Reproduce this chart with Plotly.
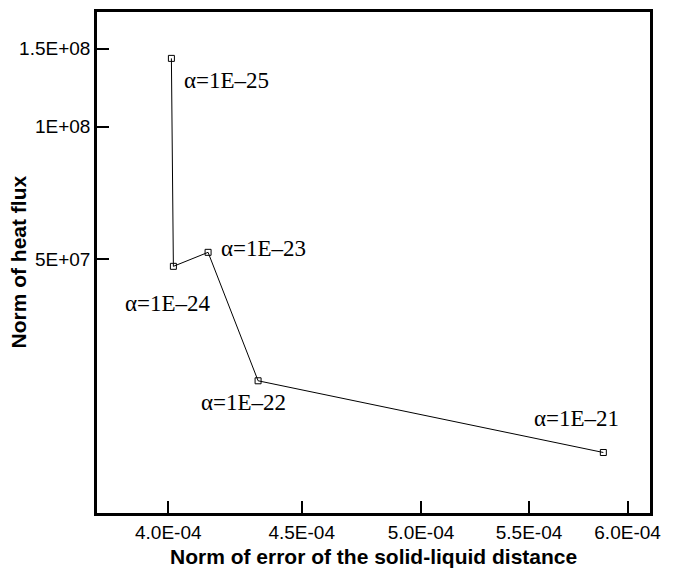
import numpy as np
import plotly.graph_objects as go

# Regularisation parameter labels and the resulting norms
alpha_labels = ["α=1E–25", "α=1E–24", "α=1E–23", "α=1E–22", "α=1E–21"]
distance_error = [4.011e-4, 4.018e-4, 4.143e-4, 4.330e-4, 5.873e-4]
heat_flux_norm = [1.427e8, 4.82e7, 5.185e7, 2.652e7, 1.824e7]

x_tick_vals = [4.0e-4, 4.5e-4, 5.0e-4, 5.5e-4, 6.0e-4]
x_tick_text = ["4.0E-04", "4.5E-04", "5.0E-04", "5.5E-04", "6.0E-04"]
y_tick_vals = [5e7, 1e8, 1.5e8]
y_tick_text = ["5E+07", "1E+08", "1.5E+08"]

x_title = "Norm of error of the solid-liquid distance"
y_title = "Norm of heat flux"

# label placement relative to each point (pixels)
label_offsets = [
    (11, -22, "left"),
    (-5, -37, "center"),
    (11, 4, "left"),
    (-15, -22, "center"),
    (-27, 34, "center"),
]

fig = go.Figure()
fig.add_trace(go.Scatter(
    x=distance_error, y=heat_flux_norm,
    mode="lines+markers",
    line=dict(color="black", width=1),
    marker=dict(symbol="square-open", size=6, color="black", line=dict(width=1)),
    showlegend=False,
))

for lab, xv, yv, (dx, dy, anc) in zip(alpha_labels, distance_error, heat_flux_norm, label_offsets):
    fig.add_annotation(
        x=np.log10(xv), y=np.log10(yv), xref="x", yref="y",
        text=lab, showarrow=False,
        xanchor=anc, yanchor="middle", xshift=dx, yshift=dy,
        font=dict(family="Liberation Serif", size=23, color="black"),
    )

title_font = dict(family="Liberation Sans", size=21, color="black")
fig.add_annotation(
    x=0.5, y=0, xref="paper", yref="paper", text=f"<b>{x_title}</b>",
    showarrow=False, xanchor="center", yanchor="middle", yshift=-43,
    font=title_font,
)
fig.add_annotation(
    x=0, y=0.5, xref="paper", yref="paper", text=f"<b>{y_title}</b>",
    showarrow=False, xanchor="center", yanchor="middle", xshift=-79,
    textangle=-90, font=title_font,
)

axis_common = dict(
    showline=True, linecolor="black", linewidth=2.5, mirror=True,
    ticks="inside", ticklen=12, tickwidth=2, tickcolor="black",
    showgrid=False, zeroline=False,
    tickfont=dict(family="Liberation Sans", size=19, color="black"),
)

fig.update_xaxes(
    type="log", range=[np.log10(3.756e-4), np.log10(6.12e-4)],
    tickvals=x_tick_vals, ticktext=x_tick_text,
    **axis_common,
)
fig.update_yaxes(
    type="log", range=[np.log10(1.33e7), np.log10(1.818e8)],
    tickvals=y_tick_vals, ticktext=y_tick_text,
    **axis_common,
)

fig.update_layout(
    width=677, height=569,
    margin=dict(l=97, r=27, t=9, b=56),
    paper_bgcolor="white", plot_bgcolor="white",
)

fig.write_html("out.html")
